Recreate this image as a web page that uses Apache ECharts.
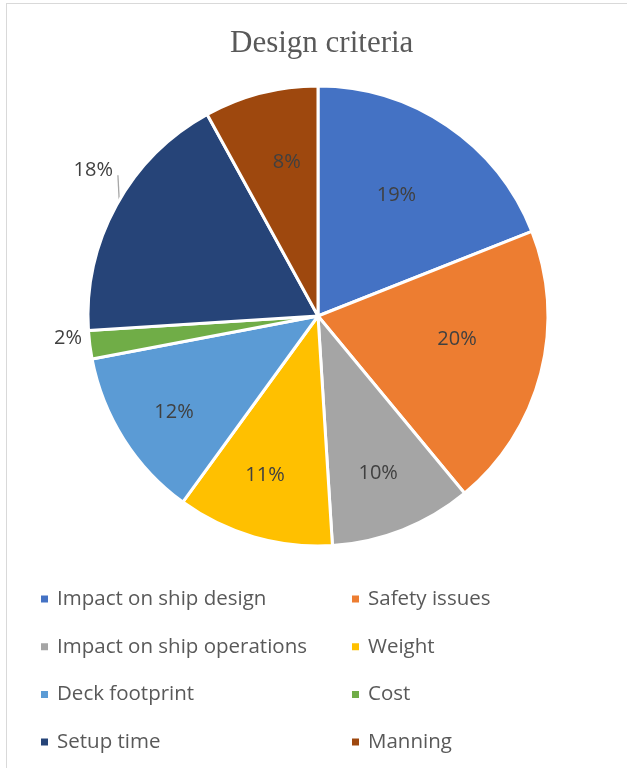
<!DOCTYPE html>
<html>
<head>
<meta charset="utf-8">
<script src="https://cdn.jsdelivr.net/npm/echarts@6/dist/echarts.min.js"></script>
<style>
  html, body { margin: 0; padding: 0; background: #ffffff; }
  #chart { position: absolute; left: 0; top: 0; width: 627px; height: 768px; }
  #frame { position: absolute; left: 6px; top: 3px; right: 0; bottom: 0;
           border-top: 1px solid #d9d9d9; border-left: 1px solid #d9d9d9; pointer-events: none; }
</style>
</head>
<body>
<div id="chart"></div>
<div id="frame"></div>
<script>
// Share of each design criterion (percent)
const categories = [
  'Impact on ship design', 'Safety issues', 'Impact on ship operations', 'Weight',
  'Deck footprint', 'Cost', 'Setup time', 'Manning'
];
const values = [19, 20, 10, 11, 12, 2, 18, 8];
const colors = ['#4472C4', '#ED7D31', '#A5A5A5', '#FFC000', '#5B9BD5', '#70AD47', '#264478', '#9E480E'];

// Pie geometry
const CX = 318, CY = 316, R = 230;

// Label placement: distance from centre and small angular nudge (degrees)
const labelRadius = [144, 141, 168, 168, 173, 251, 268, 157];
const labelNudge  = [-1.2, -4.9, 0.6, 2.2, -1.3, 2.2, 4.2, 2.9];
const outsideLabels = [5, 6];

const total = values.reduce((a, b) => a + b, 0);
const midAngles = [];
{
  let cum = 0;
  values.forEach(v => { midAngles.push((cum + v / 2) / total * 360); cum += v; });
}
function polar(deg, r) {
  const a = deg * Math.PI / 180;
  return [CX + r * Math.sin(a), CY - r * Math.cos(a)];
}

const pieData = categories.map((name, i) => {
  const item = { name: name, value: values[i], itemStyle: { color: colors[i] } };
  if (outsideLabels.includes(i)) {
    item.label = { position: 'outside' };
    item.labelLine = { show: i === 6 };
  }
  return item;
});

const textFont = "'Open Sans', 'Liberation Sans', sans-serif";
const leftCol = [0, 2, 4, 6].map(i => categories[i]);
const rightCol = [1, 3, 5, 7].map(i => categories[i]);
const legendBase = {
  orient: 'vertical',
  top: 582,
  padding: 5,
  icon: 'rect',
  itemWidth: 9,
  itemHeight: 9,
  itemGap: 23.7,
  selectedMode: false,
  textStyle: { fontFamily: textFont, fontSize: 20.5, lineHeight: 24, color: '#595959', padding: [0, 0, 0, 3] }
};

const chart = echarts.init(document.getElementById('chart'), null, { renderer: 'canvas' });
chart.setOption({
  animation: false,
  backgroundColor: '#ffffff',
  title: {
    text: 'Design criteria',
    left: 225,
    top: 23,
    textStyle: { fontFamily: "'Liberation Serif', 'Times New Roman', serif", fontSize: 31, fontWeight: 'normal', color: '#595959' }
  },
  legend: [
    Object.assign({}, legendBase, { left: 34, data: leftCol }),
    Object.assign({}, legendBase, { left: 345, data: rightCol })
  ],
  series: [{
    type: 'pie',
    center: [CX, CY],
    radius: [0, R],
    startAngle: 90,
    clockwise: true,
    silent: true,
    emphasis: { disabled: true },
    itemStyle: { borderColor: '#ffffff', borderWidth: 3 },
    label: {
      show: true,
      position: 'inside',
      formatter: p => p.value + '%',
      fontFamily: textFont,
      fontSize: 20,
      color: '#404040'
    },
    labelLine: { show: true, length: 10, length2: 0, lineStyle: { color: '#a6a6a6', width: 1.3 } },
    labelLayout: function (p) {
      const i = p.dataIndex;
      const pos = polar(midAngles[i] + labelNudge[i], labelRadius[i]);
      const out = { x: pos[0], y: pos[1], align: 'center', verticalAlign: 'middle' };
      if (i === 6) {
        const start = polar(midAngles[i] + 1.4, R);
        const end = [start[0] - 1.3, start[1] - 25];
        out.labelLinePoints = [start, end, end];
      }
      return out;
    },
    data: pieData
  }]
});
</script>
</body>
</html>
